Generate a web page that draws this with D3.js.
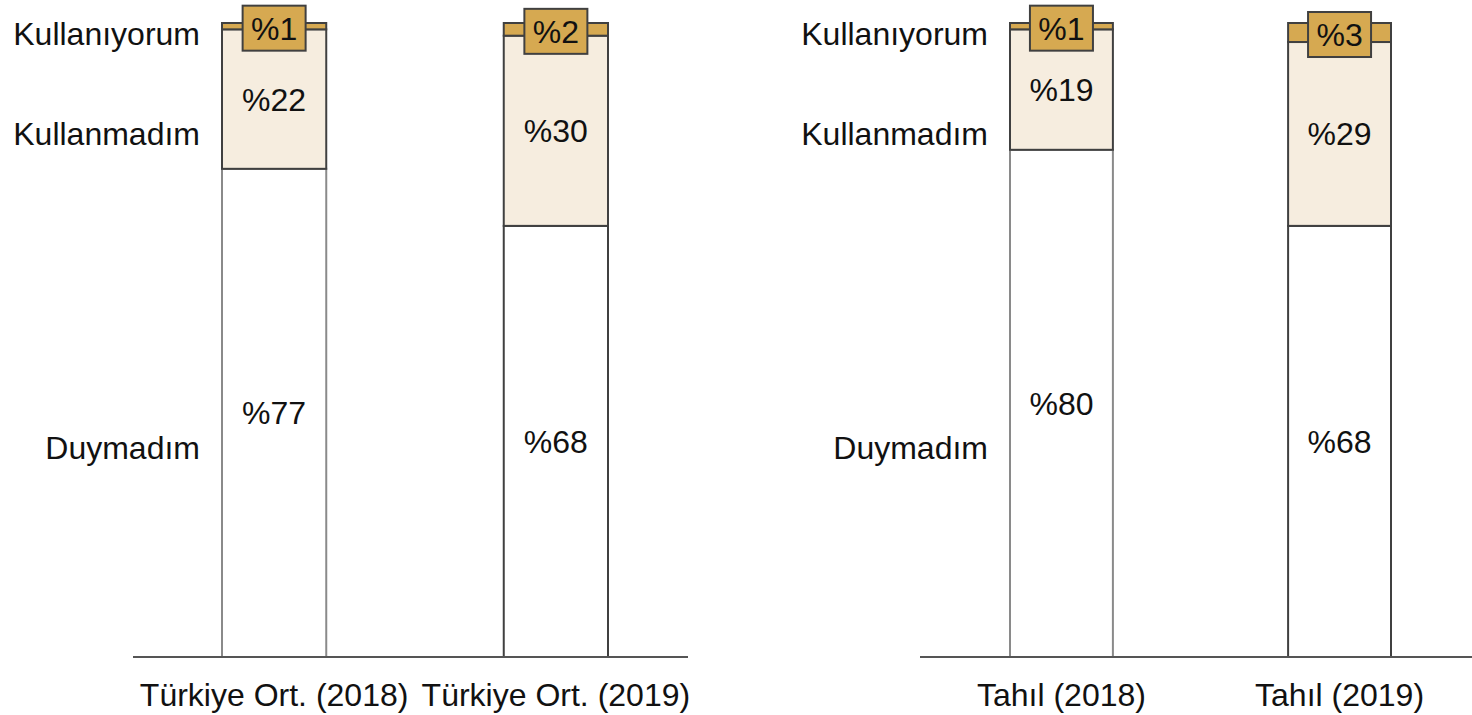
<!DOCTYPE html>
<html>
<head>
<meta charset="utf-8">
<script src="https://cdn.jsdelivr.net/npm/d3@7"></script>
<style>
  body { margin: 0; background: #fff; }
  text { font-family: "Liberation Sans", Arial, sans-serif; }
</style>
</head>
<body>
<div id="chart"></div>
<script>
const series = ['Duymadım', 'Kullanmadım', 'Kullanıyorum'];
const seriesLabelPos = [33, 82.5, 98.3];

const panel1Cats = ['Türkiye Ort. (2018)', 'Türkiye Ort. (2019)'];
const panel1Duymadim = [77, 68];
const panel1Kullanmadim = [22, 30];
const panel1Kullaniyorum = [1, 2];

const panel2Cats = ['Tahıl (2018)', 'Tahıl (2019)'];
const panel2Duymadim = [80, 68];
const panel2Kullanmadim = [19, 29];
const panel2Kullaniyorum = [1, 3];

const width = 1472, height = 715;
const baseY = 657, topY = 23;
const fills = ['#ffffff', '#f6eddf', '#d6a951'];
const dark = '#404040';

const svg = d3.select('#chart').append('svg')
  .attr('width', width).attr('height', height);

const y = d3.scaleLinear().domain([0, 100]).range([baseY, topY]);

function drawPanel(cats, duy, kul, kuy, barRange, axisRange) {
  const x = d3.scaleBand().domain(cats).range(barRange)
    .paddingInner(0.63).paddingOuter(0);
  const g = svg.append('g');

  const rows = cats.map((c, i) => ({ cat: c, idx: i, vals: [duy[i], kul[i], kuy[i]] }));
  const stack = d3.stack().keys([0, 1, 2]).value((d, k) => d.vals[k])(rows);

  // segments
  stack.forEach((layer, k) => {
    g.selectAll(null).data(layer).enter().append('rect')
      .attr('x', d => x(d.data.cat))
      .attr('y', d => y(d[1]))
      .attr('width', x.bandwidth())
      .attr('height', d => y(d[0]) - y(d[1]))
      .attr('fill', fills[k])
      .attr('stroke', d => (k === 0 && d.data.idx === 0) ? '#8a8a8a' : dark)
      .attr('stroke-width', 2);
  });

  // axis line
  g.append('line')
    .attr('x1', axisRange[0]).attr('x2', axisRange[1])
    .attr('y1', baseY).attr('y2', baseY)
    .attr('stroke', '#555').attr('stroke-width', 2);

  // value labels in lower two segments
  [0, 1].forEach(k => {
    g.selectAll(null).data(stack[k]).enter().append('text')
      .attr('x', d => x(d.data.cat) + x.bandwidth() / 2)
      .attr('y', d => (y(d[0]) + y(d[1])) / 2)
      .attr('dy', '0.36em')
      .attr('text-anchor', 'middle')
      .attr('font-size', 32)
      .attr('fill', '#111')
      .text(d => '%' + d.data.vals[k]);
  });

  // boxed labels on top segment
  stack[2].forEach(d => {
    const cx = x(d.data.cat) + x.bandwidth() / 2;
    const cy = (y(d[0]) + y(d[1])) / 2 + 2;
    const bw = 63, bh = 45;
    g.append('rect')
      .attr('x', cx - bw / 2).attr('y', cy - bh / 2)
      .attr('width', bw).attr('height', bh)
      .attr('fill', fills[2]).attr('stroke', dark).attr('stroke-width', 2);
    g.append('text')
      .attr('x', cx).attr('y', cy).attr('dy', '0.36em')
      .attr('text-anchor', 'middle').attr('font-size', 32).attr('fill', '#111')
      .text('%' + d.data.vals[2]);
  });

  // category labels
  g.selectAll(null).data(cats).enter().append('text')
    .attr('x', d => x(d) + x.bandwidth() / 2)
    .attr('y', 706)
    .attr('text-anchor', 'middle')
    .attr('font-size', 32)
    .attr('fill', '#111')
    .text(d => d);

  // series labels
  g.selectAll(null).data(series).enter().append('text')
    .attr('x', x(cats[0]) - 22)
    .attr('y', (d, i) => y(seriesLabelPos[i]))
    .attr('dy', '0.36em')
    .attr('text-anchor', 'end')
    .attr('font-size', 32)
    .attr('fill', '#111')
    .text(d => d);
}

drawPanel(panel1Cats, panel1Duymadim, panel1Kullanmadim, panel1Kullaniyorum, [222, 608], [133, 688]);
drawPanel(panel2Cats, panel2Duymadim, panel2Kullanmadim, panel2Kullaniyorum, [1010, 1391], [920, 1472]);
</script>
</body>
</html>
